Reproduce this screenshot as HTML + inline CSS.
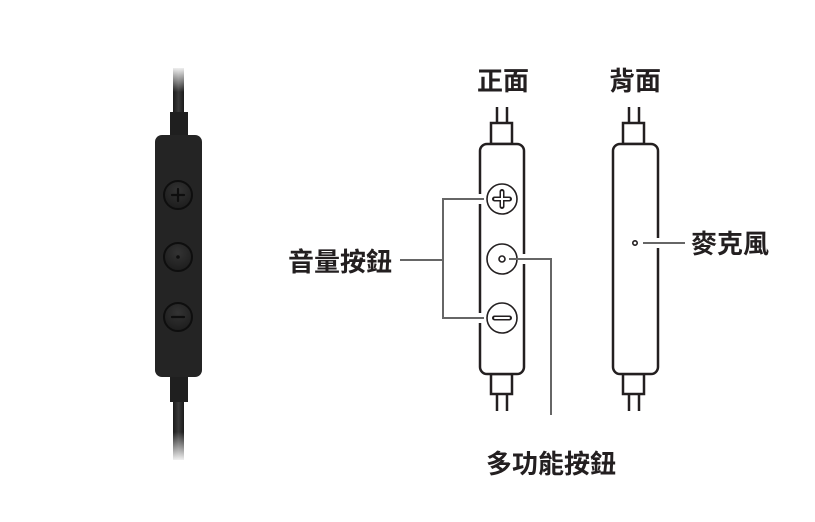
<!DOCTYPE html>
<html><head><meta charset="utf-8"><style>
html,body{margin:0;padding:0;background:#fff;}
body{width:815px;height:522px;overflow:hidden;position:relative;}
svg{position:absolute;left:0;top:0;}
text{font-family:"Liberation Sans","Noto Sans CJK TC",sans-serif;font-weight:bold;font-size:26px;fill:#231f20;}
</style></head><body>
<svg width="815" height="522" viewBox="0 0 815 522">
<defs>
<linearGradient id="cab" x1="0" x2="1"><stop offset="0" stop-color="#1a1a1a"/><stop offset="0.5" stop-color="#3a3a3a"/><stop offset="1" stop-color="#1a1a1a"/></linearGradient>
<linearGradient id="fadeT" x1="0" y1="0" x2="0" y2="1"><stop offset="0" stop-color="#fff" stop-opacity="1"/><stop offset="1" stop-color="#fff" stop-opacity="0"/></linearGradient>
<linearGradient id="fadeB" x1="0" y1="0" x2="0" y2="1"><stop offset="0" stop-color="#fff" stop-opacity="0"/><stop offset="1" stop-color="#fff" stop-opacity="1"/></linearGradient>
<radialGradient id="btn" cx="0.5" cy="0.35" r="0.65"><stop offset="0" stop-color="#333"/><stop offset="1" stop-color="#1d1d1d"/></radialGradient>
</defs>
<rect x="173" y="68" width="11" height="392" fill="url(#cab)"/>
<rect x="168" y="66" width="21" height="26" fill="url(#fadeT)"/>
<rect x="168" y="432" width="21" height="30" fill="url(#fadeB)"/>
<rect x="170" y="112" width="18" height="26" fill="#1f1f1f"/>
<rect x="170" y="372" width="18" height="30" fill="#1f1f1f"/>
<rect x="155" y="135" width="47" height="242" rx="7" fill="#242424"/>
<g stroke="#0e0e0e" stroke-width="2">
<circle cx="178" cy="195" r="14" fill="url(#btn)"/>
<circle cx="178" cy="257" r="14" fill="url(#btn)"/>
<circle cx="178" cy="317" r="14" fill="url(#btn)"/>
</g>
<g stroke="#0e0e0e" stroke-width="2.2" stroke-linecap="round">
<line x1="172" y1="195" x2="184" y2="195"/><line x1="178" y1="189" x2="178" y2="201"/>
<line x1="172" y1="317" x2="184" y2="317"/>
</g>
<circle cx="178" cy="257" r="1.8" fill="#0e0e0e"/>
<g fill="none" stroke="#231f20" stroke-width="2.5">
<line x1="497" y1="107" x2="497" y2="123"/><line x1="507" y1="107" x2="507" y2="123"/>
<rect x="491" y="123" width="21" height="21"/>
<rect x="491" y="374" width="21" height="20"/>
<line x1="497" y1="394" x2="497" y2="411"/><line x1="507" y1="394" x2="507" y2="411"/>
<rect x="480" y="144" width="44" height="230" rx="7" fill="#fff"/>
<line x1="629" y1="107" x2="629" y2="123"/><line x1="639" y1="107" x2="639" y2="123"/>
<rect x="623" y="123" width="21" height="21"/>
<rect x="623" y="374" width="21" height="20"/>
<line x1="629" y1="394" x2="629" y2="411"/><line x1="639" y1="394" x2="639" y2="411"/>
<rect x="613" y="144" width="45" height="230" rx="7" fill="#fff"/>
</g>
<g stroke="#fff" stroke-width="5">
<line x1="480" y1="194" x2="480" y2="204"/>
<line x1="480" y1="313" x2="480" y2="323"/>
<line x1="524" y1="254" x2="524" y2="264"/>
<line x1="658" y1="238" x2="658" y2="248"/>
</g>
<g fill="#fff" stroke="#231f20" stroke-width="1.6">
<circle cx="502" cy="199" r="15"/>
<circle cx="502" cy="259" r="15"/>
<circle cx="502" cy="318" r="15"/>
<circle cx="502" cy="259" r="3"/>
<circle cx="635" cy="243" r="2.2"/>
</g>
<g stroke="#231f20" stroke-linecap="round">
<path d="M494.5 199h15M502 191.5v15" stroke-width="5"/>
<path d="M494.5 318h15" stroke-width="5"/>
</g>
<g stroke="#fff" stroke-linecap="round">
<path d="M495 199h14M502 192v14" stroke-width="2"/>
<path d="M495 318h14" stroke-width="2"/>
</g>
<g fill="none" stroke="#666" stroke-width="2">
<path d="M400 260H443M484 199H443V318H484"/>
<path d="M509 259H551V415"/>
<path d="M643 243H685"/>
</g>
<text x="477" y="90">正面</text>
<text x="609" y="90">背面</text>
<text x="288" y="271">音量按鈕</text>
<text x="691" y="253">麥克風</text>
<text x="486" y="473">多功能按鈕</text>
</svg>
</body></html>
